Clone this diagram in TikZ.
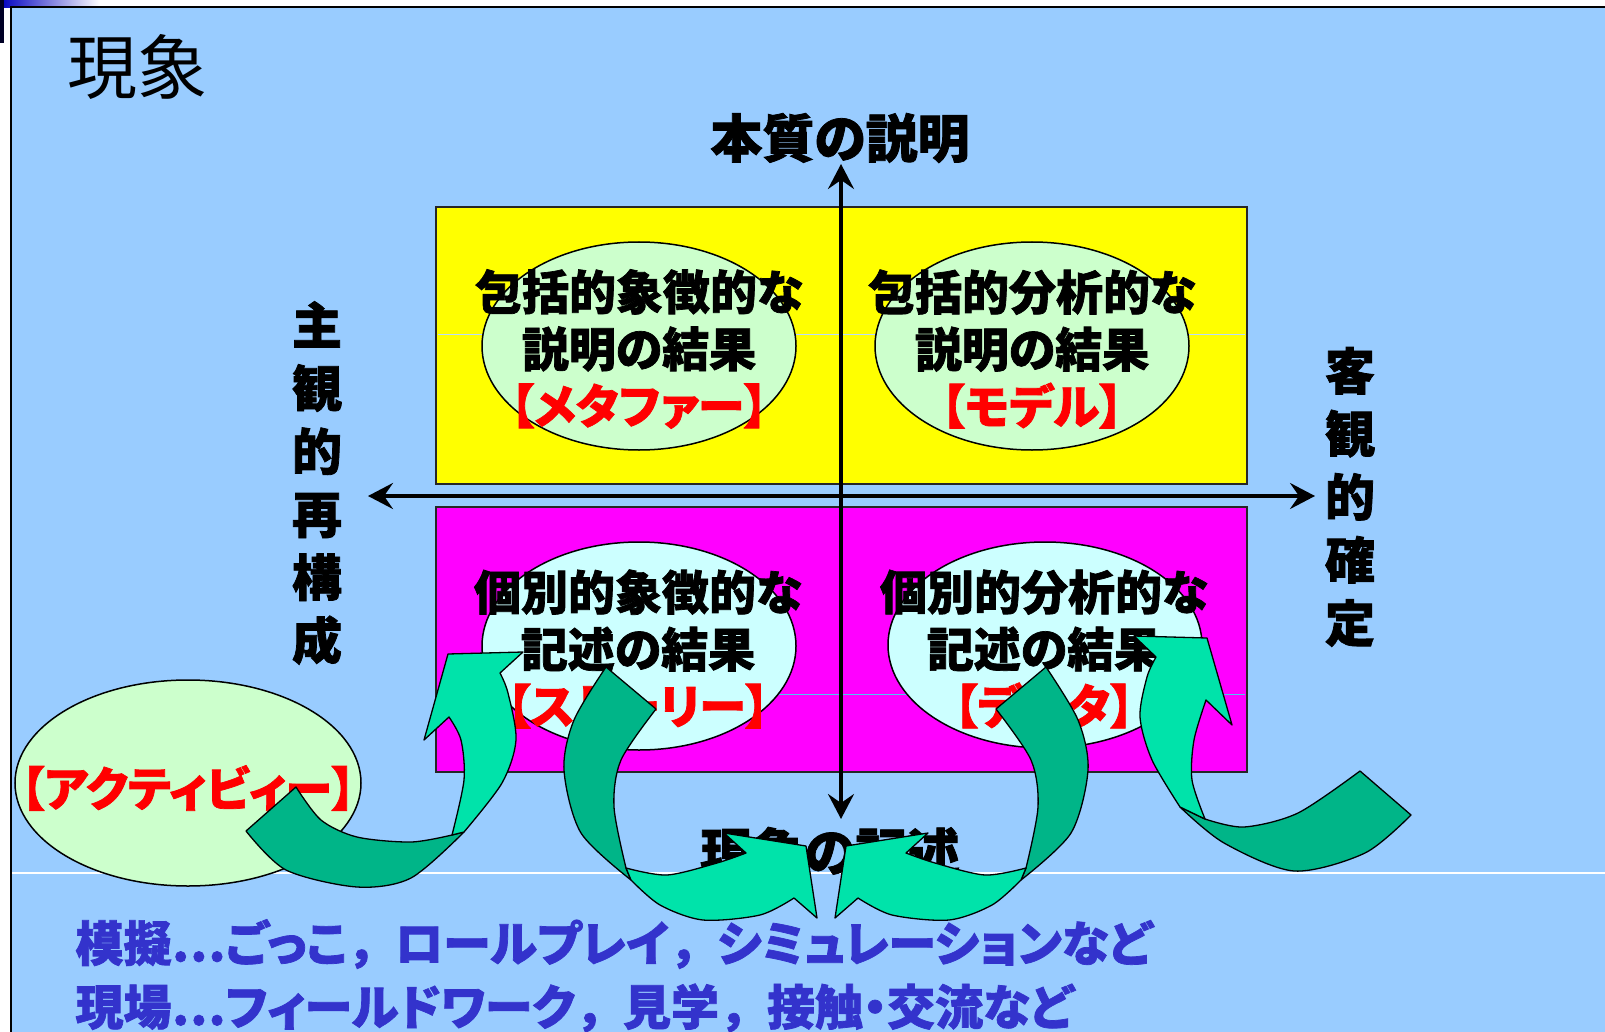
\documentclass[tikz,border=0pt]{standalone}
\usepackage{fontspec}
\usepackage{xcolor}
\usetikzlibrary{arrows.meta}
\newfontfamily\jp{Noto Sans CJK JP}[RawFeature=+palt, BoldFeatures={FakeBold=1.5}]
\newfontfamily\jpfw{Noto Sans CJK JP}[BoldFeatures={FakeBold=1.5}]
\newcommand\zcomma{{\jpfw ，}}
\newcommand\zdots{{\jpfw ⋯}}

\definecolor{slidebg}{RGB}{153,204,255}
\definecolor{quadyellow}{RGB}{255,255,0}
\definecolor{quadpink}{RGB}{255,0,255}
\definecolor{softgreen}{RGB}{204,255,204}
\definecolor{softcyan}{RGB}{204,255,255}
\definecolor{arrowlight}{RGB}{0,227,170}
\definecolor{arrowdark}{RGB}{0,181,136}
\definecolor{textblue}{RGB}{51,51,204}

\tikzset{
  quadbox/.style={draw=black!85, line width=2.5pt},
  bubble/.style={draw=black, line width=1.5pt},
  heavy/.style={font=\jp\bfseries\fontsize{47}{57}\selectfont},
  axislabel/.style={font=\jp\bfseries\fontsize{52}{60}\selectfont},
  vertlabel/.style={font=\jp\bfseries\fontsize{50}{63}\selectfont, align=center},
  exampleline/.style={anchor=west, font=\jp\bfseries\fontsize{48}{57}\selectfont, text=textblue},
  axisline/.style={line width=3.5pt, {Stealth[length=25pt,width=26pt,inset=9pt]}-{Stealth[length=25pt,width=26pt,inset=9pt]}},
  arrowfront/.style={fill=arrowlight, draw=black, line width=1.3pt, line join=round},
  arrowback/.style={fill=arrowdark, draw=black, line width=1.3pt, line join=round}
}

\begin{document}
\begin{tikzpicture}[x=1pt,y=-1pt]
\useasboundingbox (0,0) rectangle (1605,1032);
\clip (0,0) rectangle (1605,1032);
\fill[white] (0,0) rectangle (1605,1032);
\shade[left color=blue!75!black, right color=white] (0,0) rectangle (100,8);
\fill[black!85!blue] (0,0) rectangle (4,43);
\draw[fill=slidebg, line width=2pt] (11,7) rectangle (1640,1060);
\draw[white, line width=1.2pt] (12,873) -- (1605,873);

\node[font=\jp\fontsize{70}{80}\selectfont] (title) at (137,67) {現象};

% quadrants
\draw[quadbox, fill=quadyellow] (436,207) rectangle (1247,484);
\draw[quadbox, fill=quadpink] (436,507) rectangle (1247,772);
\draw[slidebg!70!white, line width=1pt] (438,334) -- (1245,334);
\draw[cyan!70!white, line width=1pt] (438,694) -- (1245,694);

\draw[bubble, fill=softgreen] (639,346) ellipse [x radius=157, y radius=104];
\draw[bubble, fill=softgreen] (1032,346) ellipse [x radius=157, y radius=104];
\draw[bubble, fill=softcyan] (639,646) ellipse [x radius=157, y radius=104];
\draw[bubble, fill=softcyan] (1045,645) ellipse [x radius=157, y radius=103];

\node[heavy, align=center] (metaphor) at (639,349) {包括的象徴的な\\説明の結果\\\textcolor{red}{【メタファー】}};
\node[heavy, align=center] (model) at (1032,349) {包括的分析的な\\説明の結果\\\textcolor{red}{【モデル】}};
\node[heavy, align=center] (story) at (638,649) {個別的象徴的な\\記述の結果\\\textcolor{red}{【ストーリー】}};
\node[heavy, align=center] (data) at (1044,649) {個別的分析的な\\記述の結果\\\textcolor{red}{【データ】}};

% axes
\node[axislabel] (essence) at (840,138) {本質の説明};
\node[axislabel] (describe) at (830,852) {現象の記述};
\node[vertlabel] (subjective) at (317,483) {主\\観\\的\\再\\構\\成};
\node[vertlabel] (objective) at (1350,497) {客\\観\\的\\確\\定};
\coordinate (axtop) at (841,164);
\coordinate (axbottom) at (841,819);
\coordinate (axleft) at (368,496);
\coordinate (axright) at (1315,496);
\draw[axisline] (axleft) -- (axright);
\draw[axisline] (axtop) -- (axbottom);

% activity
\draw[bubble, fill=softgreen] (188,783) ellipse [x radius=173, y radius=103];
\node[heavy, text=red] (activity) at (188,788) {【アクティビィー】};

% curved arrows
\draw[arrowback] plot[smooth] coordinates {(246,831) (286,870) (357,887) (411,878) (464,832)} -- (452,835)
  -- plot[smooth] coordinates {(452,835) (411,842) (357,837) (321,820) (296,787)} -- cycle;
\draw[arrowfront] plot[smooth] coordinates {(464,832) (502,783) (516,740) (508,693) (500,673)} -- (523,652) -- (448,654) -- (424,740) -- (449,717)
  -- plot[smooth] coordinates {(449,717) (461,740) (464,780) (452,835)} -- cycle;

\draw[arrowback] plot[smooth] coordinates {(606,667) (574,720) (564,770) (581,833) (631,880)} -- (626,868)
  -- plot[smooth] coordinates {(626,868) (614,807) (621,760) (656,709)} -- cycle;
\draw[arrowfront] plot[smooth] coordinates {(626,868) (667,875) (717,863) (746,853)} -- (724,833) -- (806,846) -- (817,918) -- (794,898)
  -- plot[smooth] coordinates {(794,898) (760,915) (703,920) (660,905) (631,880)} -- cycle;

\draw[arrowback] plot[smooth] coordinates {(1046,667) (1078,720) (1088,770) (1071,833) (1021,880)} -- (1026,868)
  -- plot[smooth] coordinates {(1026,868) (1038,807) (1031,760) (996,709)} -- cycle;
\draw[arrowfront] plot[smooth] coordinates {(1026,868) (985,875) (935,863) (906,853)} -- (928,833) -- (846,846) -- (835,918) -- (858,898)
  -- plot[smooth] coordinates {(858,898) (892,915) (949,920) (992,905) (1021,880)} -- cycle;

\draw[arrowback] plot[smooth] coordinates {(1180,807) (1224,843) (1294,871) (1365,853) (1411,815)} -- (1360,771)
  -- plot[smooth] coordinates {(1360,771) (1298,813) (1244,827) (1205,819)} -- cycle;
\draw[arrowfront] plot[smooth] coordinates {(1205,819) (1192,780) (1194,740) (1206,700)} -- (1232,725) -- (1207,638) -- (1134,636) -- (1156,657)
  -- plot[smooth] coordinates {(1156,657) (1147,677) (1140,717) (1152,760) (1180,807)} -- cycle;

% examples
\node[exampleline] (mimic) at (72,944) {模擬\zdots ごっこ\zcomma ロールプレイ\zcomma シミュレーションなど};
\node[exampleline] (field) at (72,1008) {現場\zdots フィールドワーク\zcomma 見学\zcomma 接触・交流など};
\end{tikzpicture}
\end{document}
